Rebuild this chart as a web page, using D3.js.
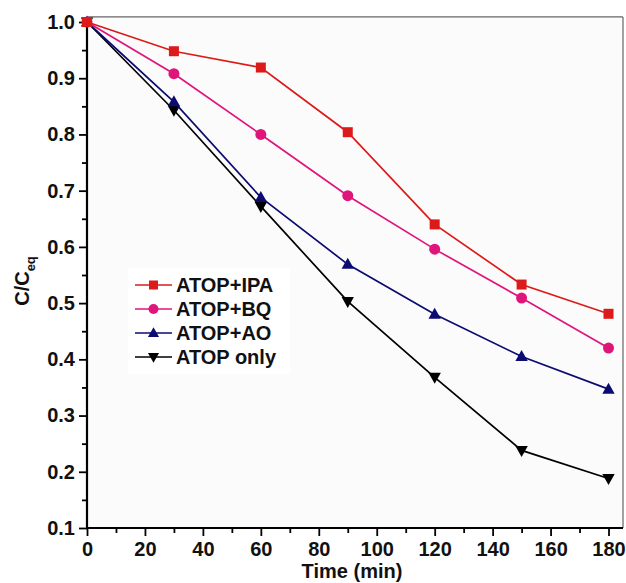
<!DOCTYPE html>
<html><head><meta charset="utf-8">
<script src="https://cdn.jsdelivr.net/npm/d3@7"></script>
<style>body{margin:0;background:#fff;}svg{display:block;font-family:"Liberation Sans",Arial,sans-serif;}</style>
</head><body>
<svg id="c" width="626" height="583"></svg>
<script>
const times = [0, 30, 60, 90, 120, 150, 180];
const seriesNames = ["ATOP+IPA", "ATOP+BQ", "ATOP+AO", "ATOP only"];
const ipa  = [1.0, 0.948, 0.919, 0.804, 0.640, 0.533, 0.481];
const bq   = [1.0, 0.908, 0.800, 0.691, 0.596, 0.509, 0.420];
const ao   = [1.0, 0.858, 0.688, 0.569, 0.480, 0.405, 0.347];
const only = [1.0, 0.843, 0.672, 0.503, 0.368, 0.238, 0.188];
const xTicks = [0, 20, 40, 60, 80, 100, 120, 140, 160, 180];
const yTicks = [0.1, 0.2, 0.3, 0.4, 0.5, 0.6, 0.7, 0.8, 0.9, 1.0];

const colors = ["#dd1a1a", "#e0157c", "#0b0b72", "#000000"];
const symbols = ["square", "circle", "up", "down"];
const data = [ipa, bq, ao, only];
const FS = 20;
const FW = "bold";

const svg = d3.select("#c");
const x = d3.scaleLinear().domain([0, 185]).range([87, 623]);
const y = d3.scaleLinear().domain([0.1, 1.0]).range([528, 22]);
const yTop = y(1.009);

svg.append("rect").attr("x", 87).attr("y", yTop).attr("width", 623 - 87).attr("height", 528 - yTop).attr("fill", "#fbfbfb");
svg.append("line").attr("x1", 87).attr("x2", 623).attr("y1", yTop).attr("y2", yTop).attr("stroke", "#666").attr("stroke-width", 1.2);
svg.append("line").attr("x1", 623).attr("x2", 623).attr("y1", yTop).attr("y2", 528).attr("stroke", "#666").attr("stroke-width", 1.2);

svg.append("rect").attr("x", 128).attr("y", 268).attr("width", 162).attr("height", 106).attr("fill", "#ffffff");

const xAxis = d3.axisBottom(x).tickValues(xTicks).tickSize(8).tickPadding(6).tickFormat(d3.format("d"));
const gx = svg.append("g").attr("transform", "translate(0,528)").call(xAxis);
const xMinor = d3.axisBottom(x).tickValues(d3.range(10, 185, 20)).tickSize(5).tickFormat("");
svg.append("g").attr("transform", "translate(0,528)").call(xMinor).select(".domain").remove();

const yAxis = d3.axisLeft(y).tickValues(yTicks).tickSize(8).tickPadding(4).tickFormat(d3.format(".1f"));
const gy = svg.append("g").attr("transform", "translate(87,0)").call(yAxis);
const yMinor = d3.axisLeft(y).tickValues(d3.range(0.15, 1.0, 0.1)).tickSize(5).tickFormat("");
svg.append("g").attr("transform", "translate(87,0)").call(yMinor).select(".domain").remove();

svg.selectAll(".domain").attr("stroke", "#000").attr("stroke-width", 2.2);
gy.select(".domain").attr("d", `M0,528V${yTop}`);
gx.select(".domain").attr("d", `M87,0H623`);
svg.selectAll(".tick line").attr("stroke", "#000").attr("stroke-width", 1.8);
svg.selectAll(".tick text").attr("font-size", FS).attr("font-weight", FW).attr("fill", "#111").attr("font-family", "Liberation Sans, Arial, sans-serif");

function drawSym(g, type, cx, cy, color, s) {
  if (type === "square") g.append("rect").attr("x", cx - s/2).attr("y", cy - s/2).attr("width", s).attr("height", s).attr("fill", color);
  else if (type === "circle") g.append("circle").attr("cx", cx).attr("cy", cy).attr("r", s/2 + 0.5).attr("fill", color);
  else if (type === "up") g.append("path").attr("d", `M${cx},${cy - s*0.65}L${cx + s*0.62},${cy + s*0.45}L${cx - s*0.62},${cy + s*0.45}Z`).attr("fill", color);
  else g.append("path").attr("d", `M${cx},${cy + s*0.65}L${cx + s*0.62},${cy - s*0.45}L${cx - s*0.62},${cy - s*0.45}Z`).attr("fill", color);
}

const line = d3.line().x((d, i) => x(times[i])).y(d => y(d));
for (let k = data.length - 1; k >= 0; k--) {
  const g = svg.append("g");
  g.append("path").datum(data[k]).attr("d", line).attr("fill", "none").attr("stroke", colors[k]).attr("stroke-width", 1.7);
  data[k].forEach((v, i) => drawSym(g, symbols[k], x(times[i]), y(v), colors[k], 10));
}

const legY = [285, 309, 333, 357];
seriesNames.forEach((n, k) => {
  const g = svg.append("g");
  g.append("line").attr("x1", 135).attr("x2", 172).attr("y1", legY[k]).attr("y2", legY[k]).attr("stroke", colors[k]).attr("stroke-width", 1.7);
  drawSym(g, symbols[k], 153.5, legY[k], colors[k], 9);
  g.append("text").attr("x", 176).attr("y", legY[k] + 7).attr("font-size", FS).attr("font-weight", FW).attr("fill", "#111").text(n);
});

svg.append("text").attr("x", 352).attr("y", 578).attr("text-anchor", "middle").attr("font-size", FS).attr("font-weight", FW).attr("fill", "#111").text("Time (min)");
const yl = svg.append("text").attr("transform", "translate(29,281) rotate(-90)").attr("text-anchor", "middle").attr("font-size", FS).attr("font-weight", FW).attr("fill", "#111");
yl.append("tspan").text("C/C");
yl.append("tspan").attr("font-size", 13).attr("dy", 6).text("eq");
</script>
</body></html>
